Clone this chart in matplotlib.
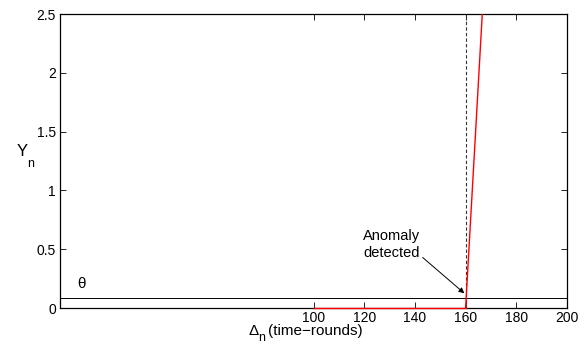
import matplotlib
matplotlib.use('Agg')
import matplotlib.pyplot as plt

plt.rcParams['font.family'] = ['Liberation Sans', 'DejaVu Sans']
plt.rcParams['font.size'] = 10

# statistic Y_n over time rounds
rounds = [100, 110, 120, 130, 140, 150, 160, 161, 162, 163, 164, 165, 166, 167, 168, 169, 170]
y_n = [0, 0, 0, 0, 0, 0, 0, 0.38, 0.76, 1.14, 1.52, 1.90, 2.28, 2.66, 3.04, 3.42, 3.80]
theta = 0.085
t_detect = 160

W, H = 587, 344
fig = plt.figure(figsize=(W / 100, H / 100), dpi=100)
ax = fig.add_axes([60 / W, 1 - 308 / H, 507 / W, 294 / H])


def px(x, y):
    return x / W, 1 - y / H


# flat part sits on the bottom spine, so don't clip it; rising part is clipped at the top
i = rounds.index(t_detect)
ax.plot(rounds[:i + 1], y_n[:i + 1], color='red', lw=1.0, zorder=5, clip_on=False)
ax.plot(rounds[i:], y_n[i:], color='red', lw=1.0, zorder=5)
ax.set_xlim(0, 200)
ax.set_ylim(0, 2.5)
ax.plot([0, 200], [theta, theta], color='black', lw=0.7)
ax.plot([t_detect, t_detect], [0, 2.5], color='#333333', ls=(0, (3, 2)), lw=0.8)

ax.text(7, 0.17, 'θ', fontsize=11)
ax.annotate('Anomaly\ndetected', xy=(t_detect - 0.5, theta + 0.04), xytext=(130.7, 0.54),
            ha='center', va='center', multialignment='center', fontsize=10.5,
            arrowprops=dict(arrowstyle='-|>', color='black', lw=0.7,
                            mutation_scale=8, shrinkA=0, shrinkB=0,
                            relpos=(1.0, 0.15)))

ax.set_xticks([100, 120, 140, 160, 180, 200])
ax.set_yticks([0, 0.5, 1, 1.5, 2, 2.5])
ax.set_yticklabels(['0', '0.5', '1', '1.5', '2', '2.5'])
ax.tick_params(direction='in', top=True, right=True, length=4, width=0.6, pad=3)
ax.tick_params(axis='x', pad=2)
for sp in ax.spines.values():
    sp.set_linewidth(0.9)

# axis labels with MATLAB-like subscripts
fig.text(*px(22, 151), 'Y', fontsize=12, ha='center', va='center')
fig.text(*px(31, 164), 'n', fontsize=9, ha='center', va='center')
fig.text(*px(254, 331), 'Δ', fontsize=11, ha='center', va='center')
fig.text(*px(261.5, 338), 'n', fontsize=9, ha='center', va='center')
fig.text(*px(268, 331), '(time−rounds)', fontsize=11, ha='left', va='center')

fig.savefig('out.png', dpi=100)
